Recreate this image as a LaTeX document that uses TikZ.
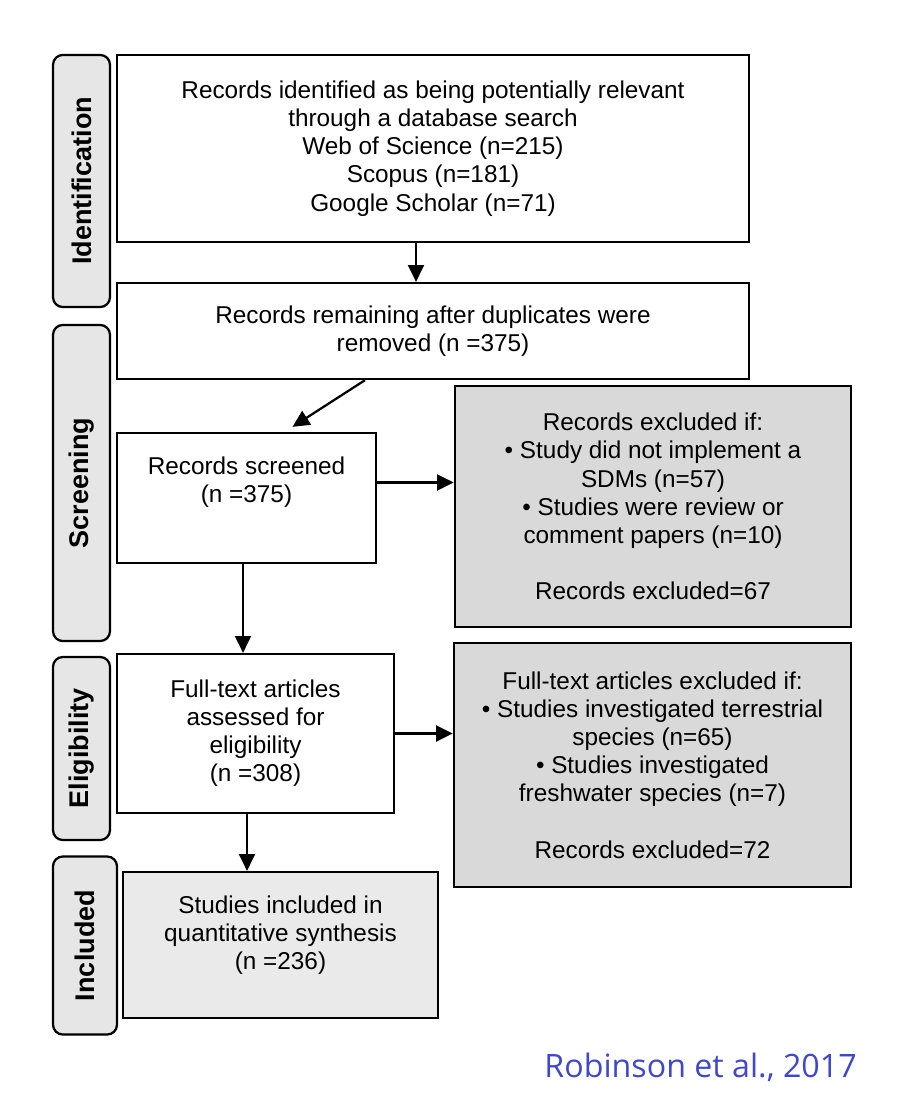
\documentclass[tikz,border=0pt]{standalone}
\usepackage{fontspec}
\setmainfont{Liberation Sans}
\newfontfamily\citefont{Open Sans}
\usepackage{xcolor}
\definecolor{phasegray}{RGB}{230,230,230}
\definecolor{exclgray}{RGB}{217,217,217}
\definecolor{inclgray}{RGB}{234,234,234}
\definecolor{citeblue}{RGB}{63,72,204}
\usepackage{tikz}
\usetikzlibrary{arrows.meta, positioning, calc}

\tikzset{
  phase/.style={draw, line width=1.6pt, fill=phasegray, rounded corners=7pt, rotate=90,
    minimum height=1.425cm, inner sep=0pt, font=\fontsize{19.2}{22}\selectfont\bfseries},
  stepbox/.style={draw, line width=1.6pt, inner sep=0pt, align=center, font=\fontsize{17.3}{20}\selectfont},
  boxtext/.style={inner sep=0pt, align=center, font=\fontsize{17.3}{20}\selectfont},
  flow/.style={line width=1.6pt, -{Triangle[length=0.42cm, width=0.4cm]}}
}

\begin{document}
\begin{tikzpicture}[x=0.025cm, y=-0.025cm]
  \useasboundingbox (0,0) rectangle (900,1104);

  % phases
  \node[phase, minimum width=6.3cm]   (idphase)  at (81.5,181)   {Identification};
  \node[phase, minimum width=7.9cm]   (scrphase) at (81.5,483)   {Screening};
  \node[phase, minimum width=4.575cm] (eliphase) at (81.5,748.5) {Eligibility};
  \node[phase, minimum width=4.45cm, minimum height=1.6cm] (incphase) at (85,945.5) {Included};

  % main steps
  \node[stepbox, minimum width=15.8cm, minimum height=4.675cm] (found) at (433,148.5)
    {Records identified as being potentially relevant\\through a database search\\Web of Science (n=215)\\Scopus (n=181)\\Google Scholar (n=71)};
  \node[stepbox, minimum width=15.8cm, minimum height=2.4cm] (dedup) at (433,331)
    {Records remaining after duplicates were\\removed (n =375)};
  \node[stepbox, minimum width=6.475cm, minimum height=3.25cm] (screened) at (246.5,498) {};
  \node[boxtext] (screenedtxt) at (246.5,482.5) {Records screened\\(n =375)};
  \node[stepbox, minimum width=6.925cm, minimum height=3.975cm] (fulltext) at (255.5,733.5)
    {Full-text articles\\assessed for\\eligibility\\(n =308)};
  \node[stepbox, fill=inclgray, minimum width=7.875cm, minimum height=3.65cm] (included) at (280.5,945) {};
  \node[boxtext] (includedtxt) at (280.5,935) {Studies included in\\quantitative synthesis\\(n =236)};

  % exclusions
  \node[stepbox, fill=exclgray, minimum width=9.9cm, minimum height=6.025cm] (excl1) at (653,506.5)
    {Records excluded if:\\\textbullet{} Study did not implement a\\SDMs (n=57)\\\textbullet{} Studies were review or\\comment papers (n=10)\\[20pt]Records excluded=67};
  \node[stepbox, fill=exclgray, minimum width=9.925cm, minimum height=6.1cm] (excl2) at (652.5,765)
    {Full-text articles excluded if:\\\textbullet{} Studies investigated terrestrial\\species (n=65)\\\textbullet{} Studies investigated\\freshwater species (n=7)\\[20pt]Records excluded=72};

  \draw[flow] ($(found.south)+(-17,0)$) -- ($(dedup.north)+(-17,0)$);
  \draw[flow] ($(dedup.south)+(-68,0)$) -- ($(screened.north)+(46,-5)$);
  \draw[flow] (screenedtxt -| screened.east) -- (screenedtxt -| excl1.west);
  \draw[flow] ($(screened.south)+(-3.5,0)$) -- ($(fulltext.north)+(-12.5,0)$);
  \draw[flow] (fulltext.east) -- (fulltext.east -| excl2.west);
  \draw[flow] ($(fulltext.south)+(-8.5,0)$) -- ($(included.north)+(-33.5,0)$);

  \node[anchor=base east, inner sep=0pt, text=citeblue, font=\citefont\fontsize{22.9}{28}\selectfont] (cite) at (857,1077)
    {Robinson et al., 2017};
\end{tikzpicture}
\end{document}
